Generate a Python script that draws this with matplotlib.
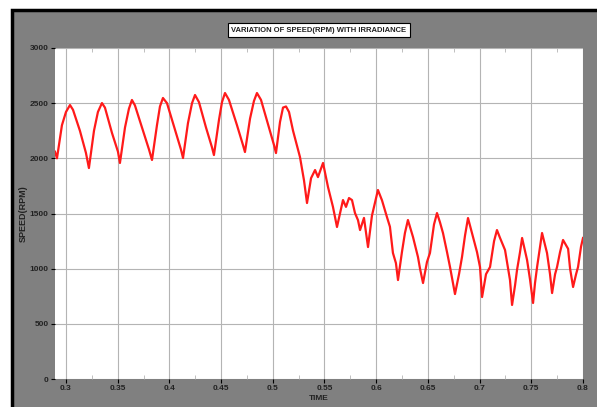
import matplotlib.pyplot as plt
from matplotlib.patches import Rectangle
from matplotlib.ticker import MultipleLocator

# speed trace (time in s, speed in rpm)
time = [0.2894, 0.2913, 0.2961, 0.3000, 0.3039, 0.3068, 0.3135, 0.3193, 0.3222,
        0.3271, 0.3309, 0.3348, 0.3377, 0.3445, 0.3503, 0.3522,
        0.3571, 0.3609, 0.3638, 0.3667, 0.3745, 0.3803, 0.3832,
        0.3880, 0.3909, 0.3938, 0.3977, 0.4054, 0.4112, 0.4132,
        0.4180, 0.4219, 0.4248, 0.4286, 0.4354, 0.4412, 0.4431,
        0.4480, 0.4509, 0.4538, 0.4576, 0.4654, 0.4712, 0.4731,
        0.4780, 0.4818, 0.4847, 0.4886, 0.4954, 0.5012, 0.5031,
        0.5070, 0.5099, 0.5128, 0.5157, 0.5196, 0.5263, 0.5302, 0.5331,
        0.5370, 0.5409, 0.5437, 0.5486, 0.5534, 0.5582, 0.5621,
        0.5679, 0.5708, 0.5737, 0.5766, 0.5795, 0.5824, 0.5844, 0.5882, 0.5921,
        0.5959, 0.5988, 0.6017, 0.6056, 0.6104, 0.6133, 0.6162, 0.6191, 0.6211,
        0.6249, 0.6278, 0.6307, 0.6356, 0.6404, 0.6424, 0.6453,
        0.6491, 0.6520, 0.6559, 0.6588, 0.6617, 0.6646, 0.6685, 0.6714, 0.6762,
        0.6801, 0.6830, 0.6859, 0.6888, 0.6936, 0.6975, 0.7004, 0.7024,
        0.7062, 0.7101, 0.7140, 0.7168, 0.7197, 0.7246, 0.7294, 0.7314,
        0.7343, 0.7362, 0.7391, 0.7411, 0.7459, 0.7488, 0.7517,
        0.7536, 0.7556, 0.7585, 0.7604, 0.7652, 0.7681, 0.7701,
        0.7730, 0.7749, 0.7778, 0.7807, 0.7856, 0.7875, 0.7904,
        0.7933, 0.7952, 0.7981, 0.8000]
speed = [2060, 2000, 2300, 2420, 2483, 2440, 2250, 2050, 1912,
         2250, 2420, 2501, 2460, 2230, 2060, 1958,
         2280, 2450, 2529, 2480, 2250, 2080, 1985,
         2300, 2470, 2547, 2500, 2260, 2080, 2003,
         2320, 2500, 2574, 2510, 2280, 2100, 2030,
         2350, 2510, 2592, 2530, 2300, 2120, 2057,
         2360, 2520, 2592, 2530, 2310, 2120, 2048,
         2330, 2460, 2470, 2420, 2250, 2012, 1800, 1595,
         1820, 1894, 1830, 1958, 1740, 1560, 1378,
         1622, 1560, 1640, 1622, 1504, 1440, 1350, 1460, 1196,
         1480, 1595, 1713, 1620, 1468, 1380, 1142, 1050, 897,
         1150, 1323, 1441, 1287, 1106, 1000, 870,
         1060, 1142, 1400, 1504, 1420, 1323, 1150, 1015, 770,
         950, 1106, 1300, 1459, 1287, 1150, 1015, 743,
         950, 1015, 1250, 1350, 1280, 1169, 897, 671,
         850, 988, 1150, 1278, 1079, 900, 689,
         870, 1015, 1200, 1323, 1142, 950, 779,
         950, 1015, 1150, 1260, 1180, 1000, 834,
         950, 1015, 1200, 1278]

x_ticks = [0.3, 0.35, 0.4, 0.45, 0.5, 0.55, 0.6, 0.65, 0.7, 0.75, 0.8]
x_tick_labels = ['0.3', '0.35', '0.4', '0.45', '0.5', '0.55', '0.6', '0.65', '0.7', '0.75', '0.8']
y_ticks = [0, 500, 1000, 1500, 2000, 2500, 3000]

W, H = 597, 407
plt.rcParams['font.family'] = ['Liberation Sans', 'DejaVu Sans']

fig = plt.figure(figsize=(W / 100, H / 100), dpi=100, facecolor='white')

# gray panel with black frame behind the axes
panel = Rectangle((12 / W, -0.05), 1.1, 1 - 10 / H + 0.05, transform=fig.transFigure,
                  facecolor='#808080', edgecolor='black', linewidth=2.5, zorder=-10)
fig.add_artist(panel)

ax = fig.add_axes([55 / W, (H - 379) / H, (583 - 55) / W, (379 - 48) / H])
ax.set_facecolor('white')
ax.plot(time, speed, color='#ff1a1a', linewidth=1.6)

ax.set_xlim(0.2894, 0.8)
ax.set_ylim(0, 3000)
ax.set_xticks(x_ticks)
ax.set_xticklabels(x_tick_labels)
ax.set_yticks(y_ticks)
ax.xaxis.set_minor_locator(MultipleLocator(0.025))

ax.grid(True, which='major', color='#b4b4b4', linewidth=0.8)
for s in ax.spines.values():
    s.set_visible(False)

ax.tick_params(axis='both', which='major', labelsize=6, direction='out', length=3,
               color='black', pad=1.5)
ax.tick_params(axis='x', which='minor', direction='in', length=3, color='#b4b4b4',
               top=True, bottom=True)
for lbl in ax.get_xticklabels() + ax.get_yticklabels():
    lbl.set_fontweight('bold')
    lbl.set_color('#222222')

ax.set_xlabel('TIME', fontsize=6, fontweight='bold', color='#222222', labelpad=2)
ax.set_ylabel('SPEED(RPM)', fontsize=6.5, fontweight='bold', color='#222222')
ax.yaxis.set_label_coords(-0.051, 0.5)

fig.text(319 / W, 1 - 30 / H, 'VARIATION OF SPEED(RPM) WITH IRRADIANCE',
         ha='center', va='center', fontsize=5.5, fontweight='bold', color='#222222',
         bbox=dict(facecolor='white', edgecolor='black', linewidth=0.8, pad=2.5))

fig.savefig('out.png', dpi=100, facecolor=fig.get_facecolor())
